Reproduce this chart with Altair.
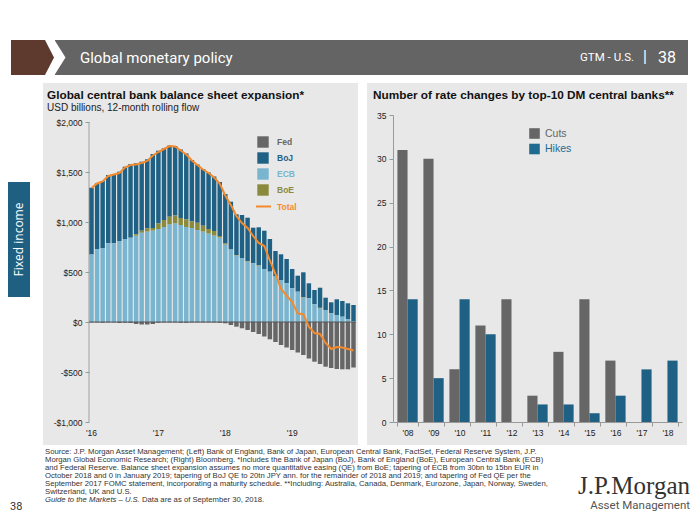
import altair as alt
import pandas as pd

# ---------------- data ----------------
MONTHS = list(pd.date_range("2016-01-01", periods=48, freq="MS").strftime("%Y-%m"))
YEAR_TICKS = ["2016-01", "2017-01", "2018-01", "2019-01"]

FED = [-5, -5, -8, -5, -5, -10, -8, -10, -20, -25, -25, -20, -8, -5, -5, -5, -8, -8, -5, -5, -5, -5, -5, -8,
       -13, -30, -47, -63, -80, -100, -120, -145, -173, -200, -230, -255, -280, -305, -330, -365, -397, -420,
       -447, -460, -470, -473, -473, -455]
BOJ = [668, 657, 670, 683, 693, 693, 723, 737, 709, 690, 692, 740, 728, 717, 712, 695, 685, 660, 615, 583,
       567, 565, 545, 540, 495, 478, 407, 430, 433, 355, 379, 383, 327, 255, 257, 243, 193, 160, 247, 150,
       143, 201, 123, 110, 157, 157, 157, 160]
ECB = [675, 730, 740, 787, 787, 810, 830, 843, 863, 893, 905, 915, 930, 950, 978, 987, 970, 950, 940, 920,
       905, 885, 865, 845, 775, 725, 665, 640, 605, 588, 563, 530, 503, 455, 420, 387, 337, 303, 245, 237,
       177, 137, 120, 87, 70, 53, 30, 10]
BOE = [0, 0, 0, 0, 0, 0, 0, 0, 15, 20, 30, 25, 55, 70, 75, 78, 70, 75, 65, 72, 58, 45, 45, 15,
       10, 0, 5, 0, 5, 0, 5, 0, 0, 0, 0, 0, 0, 0, 5, 0, 0, 5, 0, 0, 0, 0, 0, 0]
TOTAL = [1340, 1385, 1405, 1460, 1475, 1490, 1545, 1570, 1575, 1590, 1610, 1665, 1700, 1730, 1760, 1755,
         1715, 1675, 1615, 1570, 1525, 1490, 1445, 1385, 1265, 1170, 1060, 990, 940, 860, 790, 760, 615,
         480, 330, 265, 200, 85, 78, -50, -110, -120, -210, -270, -250, -255, -270, -285]

SERIES = ["Fed", "BoJ", "ECB", "BoE"]
SERIES_COLORS = ["#666666", "#1f6185", "#7ab5d0", "#8a8a3c"]
TOTAL_COLOR = "#f58a2c"
STACK_ORDER = {"ECB": 0, "BoE": 1, "BoJ": 2, "Fed": 3}

YEARS = ["'08", "'09", "'10", "'11", "'12", "'13", "'14", "'15", "'16", "'17", "'18"]
CUTS = [31, 30, 6, 11, 14, 3, 8, 14, 7, 0, 0]
HIKES = [14, 5, 14, 10, 0, 2, 2, 1, 3, 6, 7]
RATE_TYPES = ["Cuts", "Hikes"]
RATE_COLORS = ["#666666", "#1f6a90"]

FOOTNOTES = [
    "Source: J.P. Morgan Asset Management; (Left) Bank of England, Bank of Japan, European Central Bank, FactSet, Federal Reserve System, J.P.",
    "Morgan Global Economic Research; (Right) Bloomberg. *Includes the Bank of Japan (BoJ), Bank of England (BoE), European Central Bank (ECB)",
    "and Federal Reserve. Balance sheet expansion assumes no more quantitative easing (QE) from BoE; tapering of ECB from 30bn to 15bn EUR in",
    "October 2018 and 0 in January 2019; tapering of BoJ QE to 20tn JPY ann. for the remainder of 2018 and 2019; and tapering of Fed QE per the",
    "September 2017 FOMC statement, incorporating a maturity schedule. **Including: Australia, Canada, Denmark, Eurozone, Japan, Norway, Sweden,",
    "Switzerland, UK and U.S.",
]

# ---------------- tables ----------------
series_arrays = {"Fed": FED, "BoJ": BOJ, "ECB": ECB, "BoE": BOE}
rows = []
for name, arr in series_arrays.items():
    for m, v in zip(MONTHS, arr):
        rows.append({"month": m, "series": name, "value": v, "ord": STACK_ORDER[name]})
bars_df = pd.DataFrame(rows)
total_df = pd.DataFrame({"month": MONTHS, "total": TOTAL})

rate_rows = []
for y, c, h in zip(YEARS, CUTS, HIKES):
    rate_rows.append({"year": y, "type": "Cuts", "count": c})
    rate_rows.append({"year": y, "type": "Hikes", "count": h})
rate_df = pd.DataFrame(rate_rows)

one = pd.DataFrame({"k": [0]})

# ---------------- helpers for decoration ----------------
def T(text, x, y, size, color="#222222", weight="normal", align="left",
      font="Liberation Sans", style="normal", angle=0, baseline="middle"):
    kw = dict(text=text, align=align, baseline=baseline, fontSize=size, font=font,
              fontWeight=weight, fontStyle=style, color=color)
    if angle:
        kw["angle"] = angle
    return alt.Chart(one).mark_text(**kw).encode(x=alt.value(x), y=alt.value(y))


def RECT(x1, x2, y1, y2, color):
    return alt.Chart(one).mark_rect(color=color).encode(
        x=alt.value(x1), x2=alt.value(x2), y=alt.value(y1), y2=alt.value(y2))


def TRI(cx, cy, halfw, h, color):
    hw = halfw / (h / 2.0)
    path = f"M{-hw:.3f},-1L{hw:.3f},0L{-hw:.3f},1Z"
    return alt.Chart(one).mark_point(shape=path, size=h * h, filled=True, color=color,
                                     opacity=1, strokeWidth=0).encode(x=alt.value(cx), y=alt.value(cy))

# Left plot origin sits at page (89,115); right plot origin at page (393,115)
LW, LH = 267, 307
RW, RH = 289, 307
PANEL = "#e8e8e8"

# ---------------- left chart ----------------
y_left = alt.Scale(domain=[-1000, 2070], nice=False, zero=False)
x_left = alt.Scale(paddingInner=0.2, paddingOuter=0.05)

bars = alt.Chart(bars_df).mark_bar().encode(
    x=alt.X("month:O", sort=MONTHS, scale=x_left,
            axis=alt.Axis(values=YEAR_TICKS, labelExpr="\"'\" + substring(datum.value, 2, 4)",
                          ticks=False, domain=False, labelAngle=0, labelPadding=6,
                          labelFontSize=8.5, labelColor="#222222", title=None, zindex=1)),
    y=alt.Y("value:Q", stack="zero", scale=y_left,
            axis=alt.Axis(values=[-1000, -500, 0, 500, 1000, 1500, 2000],
                          labelExpr="datum.value < 0 ? '-$' + format(-datum.value, ',') : '$' + format(datum.value, ',')",
                          domain=False, grid=False, tickColor="#999999", tickSize=4,
                          labelFontSize=8.5, labelColor="#222222", labelPadding=3, title=None,
                          zindex=1)),
    color=alt.Color("series:N", scale=alt.Scale(domain=SERIES, range=SERIES_COLORS), legend=None),
    order=alt.Order("ord:Q"),
)

yrule = alt.Chart(one).mark_rule(color="#a0a0a0", strokeWidth=1).encode(
    x=alt.value(0), y=alt.datum(-1000), y2=alt.datum(2000))
zero_rule = alt.Chart(one).mark_rule(color="#555555", strokeWidth=1).encode(y=alt.datum(0))

total_line = alt.Chart(total_df).mark_line(color=TOTAL_COLOR, strokeWidth=2).encode(
    x=alt.X("month:O", sort=MONTHS, scale=x_left),
    y=alt.Y("total:Q", scale=y_left),
)

left_layers = [
    RECT(-81, 601, -107, 397, "white"),
    # header band
    RECT(-34, 599, -75, -40, "#646464"),
    TRI(-29, -57.5, 5.5, 35, "white"),
    RECT(-78, -44, -75, -40, "#5e3a2e"),
    TRI(-39.5, -57.5, 4.5, 35, "#5e3a2e"),
    T("Global monetary policy", -9, -57.5, 15, color="white", font="Roboto"),
    T("GTM - U.S.", 545, -57, 11.5, color="white", font="Roboto", align="right"),
    T("|", 556, -58, 16, color="white", font="Roboto", align="center"),
    T("38", 569, -57.5, 16, color="white", font="Roboto"),
    # side tab
    RECT(-81, -59, 67, 182, "#1f5f82"),
    T("Fixed income", -70, 124.5, 12, color="white", font="Open Sans", align="center", angle=270),
    # left panel
    RECT(-46, 269, -32, 330, PANEL),
    T("Global central bank balance sheet expansion*", -42, -20, 11.8, color="#111111", weight="bold"),
    T("USD billions, 12-month rolling flow", -42, -7, 10, color="#222222"),
    yrule,
    bars,
    zero_rule,
    total_line,
]

for i, (name, col) in enumerate(zip(SERIES, SERIES_COLORS)):
    yy = 27 + 16 * i
    left_layers.append(alt.Chart(one).mark_square(size=130, color=col, opacity=1).encode(
        x=alt.value(174), y=alt.value(yy)))
    left_layers.append(T(name, 188, yy, 8.5, color=col, weight="bold"))
left_layers.append(alt.Chart(one).mark_rule(color=TOTAL_COLOR, strokeWidth=2).encode(
    x=alt.value(167), x2=alt.value(182), y=alt.value(91.5)))
left_layers.append(T("Total", 188, 91.5, 8.5, color=TOTAL_COLOR, weight="bold"))

# footer
FS = 7.7
for i, line in enumerate(FOOTNOTES):
    left_layers.append(T(line, -44, 337 + 8 * i, FS, color="#333333"))
left_layers.append(T("Guide to the Markets \u2013 U.S.", -44, 337 + 8 * 6, FS, color="#333333", style="italic"))
left_layers.append(T("Data are as of September 30, 2018.", 53, 337 + 8 * 6, FS, color="#333333"))
left_layers.append(T("38", -79, 392, 11, color="#333333", font="Roboto"))
left_layers.append(T("J.P.Morgan", 601, 371, 25, color="#333333", font="Liberation Serif", align="right"))
left_layers.append(T("Asset Management", 601, 391, 11.5, color="#555555", font="Roboto", align="right"))

L = alt.layer(*left_layers).properties(width=LW, height=LH)

# ---------------- right chart ----------------
rbars = alt.Chart(rate_df).mark_bar().encode(
    x=alt.X("year:N", sort=YEARS, scale=alt.Scale(paddingInner=0.22, paddingOuter=0.17),
            axis=alt.Axis(tickBand="extent", tickSize=4, tickColor="#999999", domainColor="#999999",
                          labelAngle=0, labelFontSize=8.5, labelColor="#222222", labelPadding=2,
                          title=None, zindex=1)),
    xOffset=alt.XOffset("type:N", sort=RATE_TYPES),
    y=alt.Y("count:Q", scale=alt.Scale(domain=[0, 35], nice=False),
            axis=alt.Axis(values=list(range(0, 36, 5)), grid=False, tickSize=4, tickColor="#999999",
                          domainColor="#999999", labelFontSize=8.5, labelColor="#222222",
                          labelPadding=3, title=None, zindex=1)),
    color=alt.Color("type:N", scale=alt.Scale(domain=RATE_TYPES, range=RATE_COLORS), legend=None),
)

right_layers = [
    RECT(-26, 294, -32, 330, PANEL),
    T("Number of rate changes by top-10 DM central banks**", -20, -20, 11.8, color="#111111", weight="bold"),
    rbars,
]
for i, (name, col) in enumerate(zip(RATE_TYPES, RATE_COLORS)):
    yy = 18.5 + 15.5 * i
    right_layers.append(alt.Chart(one).mark_square(size=112, color=col, opacity=1).encode(
        x=alt.value(141.5), y=alt.value(yy)))
    right_layers.append(T(name, 152, yy, 10.5, color=col))

R = alt.layer(*right_layers).properties(width=RW, height=RH)

chart = alt.hconcat(L, R, spacing=37, bounds="flush").properties(padding=0).configure(
    font="Liberation Sans").configure_view(strokeWidth=0)

chart.save("out.html", embed_options={"renderer": "svg", "actions": False})
